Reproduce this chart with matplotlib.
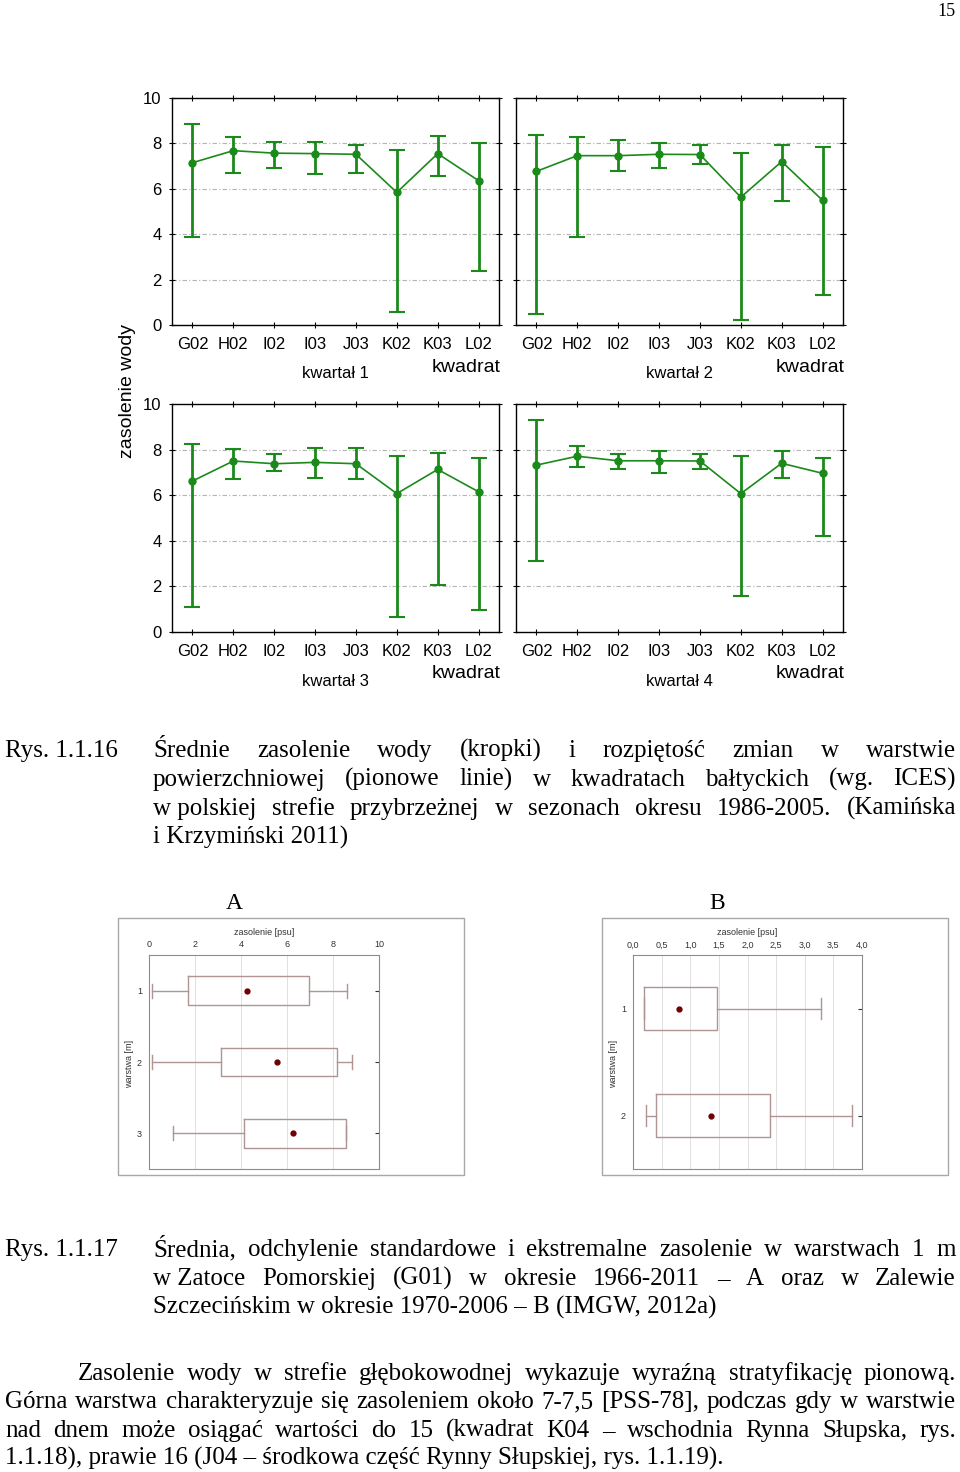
import numpy as np
import matplotlib
matplotlib.use("Agg")
import matplotlib.pyplot as plt
from matplotlib.patches import Rectangle

plt.rcParams['font.family'] = ['Liberation Sans', 'DejaVu Sans']
SERIF = ['Liberation Serif', 'DejaVu Serif']
TXT = 18

# ---- data: salinity per ICES square, by quarter (mean, min, max) ----
stations = ['G02', 'H02', 'I02', 'I03', 'J03', 'K02', 'K03', 'L02']
quarters = ['kwartał 1', 'kwartał 2', 'kwartał 3', 'kwartał 4']

q1_mean = [7.15, 7.68, 7.57, 7.55, 7.52, 5.84, 7.55, 6.36]
q1_low = [3.88, 6.70, 6.92, 6.64, 6.70, 0.56, 6.56, 2.36]
q1_high = [8.85, 8.26, 8.08, 8.08, 7.94, 7.73, 8.32, 8.02]

q2_mean = [6.77, 7.46, 7.46, 7.52, 7.51, 5.63, 7.20, 5.49]
q2_low = [0.49, 3.88, 6.77, 6.93, 7.08, 0.22, 5.46, 1.33]
q2_high = [8.38, 8.26, 8.17, 8.02, 7.94, 7.58, 7.94, 7.82]

q3_mean = [6.62, 7.50, 7.38, 7.44, 7.38, 6.07, 7.13, 6.15]
q3_low = [1.10, 6.69, 7.07, 6.76, 6.69, 0.66, 2.06, 0.96]
q3_high = [8.24, 8.01, 7.79, 8.09, 8.09, 7.72, 7.85, 7.65]

q4_mean = [7.32, 7.71, 7.51, 7.51, 7.50, 6.07, 7.40, 6.96]
q4_low = [3.12, 7.24, 7.15, 6.97, 7.15, 1.56, 6.76, 4.19]
q4_high = [9.29, 8.16, 7.79, 7.94, 7.79, 7.71, 7.94, 7.65]

# ---- data: box plots by layer (A - Zatoka Pomorska, B - Zalew Szczeciński) ----
A_layers = [1, 2, 3]
A_min = [0.13, 0.13, 1.06]
A_q1 = [1.68, 3.11, 4.15]
A_q3 = [6.95, 8.17, 8.55]
A_max = [8.62, 8.84, 8.55]
A_mean = [4.27, 5.57, 6.26]
A_ticks = [0, 2, 4, 6, 8, 10]

B_layers = [1, 2]
B_min = [0.19, 0.22]
B_q1 = [0.19, 0.40]
B_q3 = [1.47, 2.40]
B_max = [3.28, 3.83]
B_mean = [0.80, 1.37]
B_ticks = [0.0, 0.5, 1.0, 1.5, 2.0, 2.5, 3.0, 3.5, 4.0]

W, H = 960, 1472
GREEN = '#1b8a1b'
fig = plt.figure(figsize=(W / 100, H / 100), dpi=100)
renderer = fig.canvas.get_renderer()


def axes_px(l, t, r, b):
    return fig.add_axes([l / W, 1 - b / H, (r - l) / W, (b - t) / H])


def ftext(x, y, s, **kw):
    return fig.text(x / W, 1 - y / H, s, **kw)


def justified(line, x0, x1, y, size=TXT):
    words = line.split(' ')
    arts = [ftext(x0, y, w, fontsize=size, family=SERIF, va='baseline') for w in words]
    widths = [a.get_window_extent(renderer).width for a in arts]
    gap = (x1 - x0 - sum(widths)) / (len(words) - 1)
    x = x0
    for a, w in zip(arts, widths):
        a.set_x(x / W)
        x += w + gap


# ---- four error-bar panels ----
frames = [(172, 98, 499, 325), (516, 98, 843, 325),
          (172, 404, 499, 632), (516, 404, 843, 632)]
means = [q1_mean, q2_mean, q3_mean, q4_mean]
lows = [q1_low, q2_low, q3_low, q4_low]
highs = [q1_high, q2_high, q3_high, q4_high]

for i, (l, t, r, b) in enumerate(frames):
    ax = axes_px(l, t, r, b)
    x = np.arange(len(stations))
    m = np.array(means[i])
    lo = np.array(lows[i])
    hi = np.array(highs[i])
    ax.plot(x, m, color=GREEN, lw=1.2, zorder=3)
    ax.errorbar(x, m, yerr=[m - lo, hi - m], fmt='o', color=GREEN, ms=5,
                elinewidth=2, capsize=5.5, capthick=1.5, zorder=4)
    ax.set_xlim(-0.5, 7.5)
    ax.set_ylim(0, 10)
    ax.set_xticks(x)
    ax.set_xticklabels(stations)
    ax.set_yticks([0, 2, 4, 6, 8, 10])
    for g in [2, 4, 6, 8]:
        ax.axhline(g, color='#b4b4b4', lw=0.8, ls=(0, (4, 2, 1, 2)), zorder=1)
    ax.tick_params(direction='inout', length=5, top=True, right=True, labelsize=12, pad=5)
    ax.tick_params(axis='x', pad=6)
    if i % 2 == 1:
        ax.tick_params(labelleft=False)
    for s in ax.spines.values():
        s.set_linewidth(1)
    ftext((l + r) / 2, b + 49, quarters[i], fontsize=12, ha='center', va='center')
    ftext(r + 2, b + 42, 'kwadrat', fontsize=14, ha='right', va='center')

ftext(127, 391, 'zasolenie wody', fontsize=14, rotation=90, ha='center', va='center')

# ---- box plots A and B ----
boxcol = '#b09494'
for name, cx, outer, inner, layers, lo, q1, q3, hi, mn, ticks in [
        ('A', 234, (118, 918, 464, 1175), (149, 955, 379, 1169), A_layers, A_min, A_q1, A_q3, A_max, A_mean, A_ticks),
        ('B', 717, (602, 918, 948, 1175), (633, 955, 862, 1169), B_layers, B_min, B_q1, B_q3, B_max, B_mean, B_ticks)]:
    ftext(cx, 904, name, fontsize=17, family=SERIF, ha='center', va='center')
    ol, ot, orr, ob = outer
    fig.add_artist(Rectangle((ol / W, 1 - ob / H), (orr - ol) / W, (ob - ot) / H,
                             transform=fig.transFigure, fill=False, edgecolor='#a8a8a8', lw=1))
    ax = axes_px(*inner)
    stats = []
    for k in range(len(layers)):
        stats.append(dict(med=mn[k], q1=q1[k], q3=q3[k], whislo=lo[k], whishi=hi[k],
                          mean=mn[k], fliers=[]))
    ax.bxp(stats, positions=layers, widths=0.4, orientation='horizontal', showmeans=True,
           boxprops=dict(color=boxcol, lw=1), whiskerprops=dict(color=boxcol, lw=1),
           capprops=dict(color=boxcol, lw=1), medianprops=dict(lw=0),
           meanprops=dict(marker='o', markersize=3.5, markerfacecolor='#6e0000',
                          markeredgecolor='#6e0000'))
    ax.set_xlim(ticks[0], ticks[-1])
    ax.set_ylim(len(layers) + 0.5, 0.5)
    ax.set_xticks(ticks)
    if name == 'B':
        ax.set_xticklabels([f'{v:.1f}'.replace('.', ',') for v in ticks])
    ax.set_yticks(layers)
    ax.set_yticklabels([str(v) for v in layers])
    ax.xaxis.tick_top()
    ax.xaxis.set_label_position('top')
    ax.set_xlabel('zasolenie [psu]', fontsize=6.5, labelpad=4, color='#333333')
    ax.tick_params(axis='x', length=0, labelsize=6.5, pad=4, colors='#333333')
    ax.tick_params(axis='y', left=False, right=True, direction='in', length=3,
                   labelsize=6.5, pad=5, colors='#333333', labelleft=True)
    ax.xaxis.grid(True, color='#dadada', lw=0.6)
    ax.set_axisbelow(True)
    for s in ax.spines.values():
        s.set_color('#8c8c8c')
    il, it, ir, ib = inner
    ftext(il - 19, (it + ib) / 2 + 2, 'warstwa [m]', fontsize=6.5, rotation=90,
          ha='center', va='center', color='#333333')

# ---- page text ----
ftext(956, 12, '15', fontsize=13, family=SERIF, ha='right', va='center')

ftext(5, 757, 'Rys. 1.1.16', fontsize=TXT, family=SERIF, va='baseline')
justified('Średnie zasolenie wody (kropki) i rozpiętość zmian w warstwie', 153, 956, 757)
justified('powierzchniowej (pionowe linie) w kwadratach bałtyckich (wg. ICES)', 153, 956, 786)
justified('w\u00a0polskiej strefie przybrzeżnej w sezonach okresu 1986-2005. (Kamińska', 153, 956, 815)
ftext(153, 844, 'i Krzymiński 2011)', fontsize=TXT, family=SERIF, va='baseline')

ftext(5, 1256, 'Rys. 1.1.17', fontsize=TXT, family=SERIF, va='baseline')
justified('Średnia, odchylenie standardowe i ekstremalne zasolenie w warstwach 1 m', 153, 956, 1256)
justified('w\u00a0Zatoce Pomorskiej (G01) w okresie 1966-2011 – A oraz w Zalewie', 153, 956, 1285)
ftext(153, 1314, 'Szczecińskim w okresie 1970-2006 – B (IMGW, 2012a)', fontsize=TXT, family=SERIF, va='baseline')

justified('Zasolenie wody w strefie głębokowodnej wykazuje wyraźną stratyfikację pionową.', 78, 956, 1380)
justified('Górna warstwa charakteryzuje się zasoleniem około 7-7,5 [PSS-78], podczas gdy w warstwie', 5, 956, 1408)
justified('nad dnem może osiągać wartości do 15 (kwadrat K04 – wschodnia Rynna Słupska, rys.', 5, 956, 1437)
ftext(5, 1465, '1.1.18), prawie 16 (J04 – środkowa część Rynny Słupskiej, rys. 1.1.19).',
      fontsize=TXT, family=SERIF, va='baseline')

fig.savefig('out.png', dpi=100)
